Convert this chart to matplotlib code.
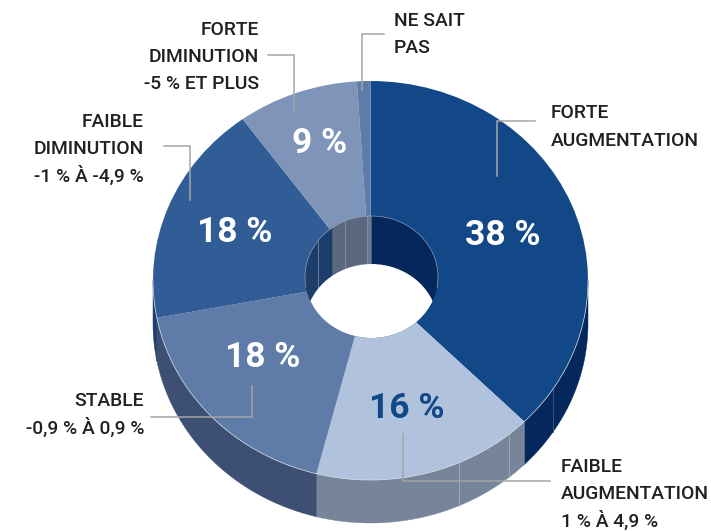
import numpy as np
import matplotlib
matplotlib.use("Agg")
import matplotlib.pyplot as plt
from matplotlib.patches import Ellipse

categories = ["Forte augmentation", "Faible augmentation", "Stable",
              "Faible diminution", "Forte diminution", "Ne sait pas"]
values = [37.5, 16.5, 18, 18, 9, 1]
top_colors = ["#134888", "#b0c2dc", "#5f7ba8", "#305d96", "#7e94b8", "#5f7ba8"]
wall_colors = ["#05285c", "#76859a", "#3d5073", "#1d3d6b", "#5b6880", "#6a7890"]
pct_labels = ["38 %", "16 %", "18 %", "18 %", "9 %"]
pct_colors = ["white", "#134888", "white", "white", "white"]
pct_pos = [(503, 231), (407, 404), (263, 353), (235, 228), (320, 139)]

CX, CY, RX, RY = 370.5, 280.5, 217.5, 199.5
HCX, HCY, HRX, HRY = 371.5, 277.0, 66.5, 61.0
DEPTH_OUT, DEPTH_IN = 43.0, 48.0


def to_x(px):
    return (np.asarray(px, float) - CX) / RX


def to_y(py):
    return (CY - np.asarray(py, float)) / RY


fig = plt.figure(figsize=(7.11, 5.31), dpi=100)
ax = fig.add_axes([0, 0, 1, 1])
plt.rcParams["font.family"] = ["Roboto", "DejaVu Sans"]

edges = np.concatenate([[0], np.cumsum(values)]) / sum(values) * 360.0


def wall(cx, cy, rx, ry, depth, a1, a2, color, zorder, clip=None):
    t = np.radians(np.linspace(a1, a2, 80))
    xs = cx + rx * np.sin(t)
    ys = cy - ry * np.cos(t)
    px = np.concatenate([xs, xs[::-1]])
    py = np.concatenate([ys, ys[::-1] + depth])
    poly = ax.fill(to_x(px), to_y(py), color=color, lw=0.3, zorder=zorder)[0]
    if clip is not None:
        poly.set_clip_path(clip)
    return poly


# outer front wall
for i in range(len(values)):
    a1, a2 = max(edges[i], 90), min(edges[i + 1], 270)
    if a2 > a1:
        wall(CX, CY, RX, RY, DEPTH_OUT, a1, a2, wall_colors[i], 1)

# outer seams
for sx, col in [(459, "#a3adbc"), (509, "#a3adbc"), (553, "#3f5a85")]:
    dy = RY * np.sqrt(1 - ((sx - CX) / RX) ** 2)
    ax.plot(to_x([sx, sx]), to_y([CY + dy, CY + dy + DEPTH_OUT]),
            color=col, lw=0.6, zorder=1.5)

# top face
wedges, _ = ax.pie(values, colors=top_colors, startangle=90, counterclock=False,
                   radius=1, center=(0, 0), wedgeprops=dict(lw=0), normalize=True)
for w in wedges:
    w.set_zorder(2)
ax.set_aspect("auto")
ax.set_xlim(to_x(0), to_x(711))
ax.set_ylim(to_y(531), to_y(0))
ax.set_xticks([])
ax.set_yticks([])
ax.axis("off")

# light rim on front edge
t = np.radians(np.linspace(90, 270, 200))
ax.plot(np.sin(t), np.cos(t), color="#d5dce8", lw=0.5, zorder=2.2)

# hole
hole = Ellipse((to_x(HCX), to_y(HCY)), 2 * HRX / RX, 2 * HRY / RY,
               fc="#05285c", ec="none", zorder=3)
ax.add_patch(hole)
for i in range(len(values)):
    for lo, hi in [(-90, 90), (270, 450)]:
        a1, a2 = max(edges[i], lo), min(edges[i + 1], hi)
        if a2 > a1:
            wall(HCX, HCY, HRX, HRY, DEPTH_IN, a1, a2, wall_colors[i], 3.2, clip=hole)
for sx in [318, 345, 367]:
    dy = HRY * np.sqrt(1 - ((sx - HCX) / HRX) ** 2)
    ln, = ax.plot(to_x([sx, sx]), to_y([HCY - dy, HCY - dy + DEPTH_IN]),
                  color="#8d99ad", lw=0.5, zorder=3.4)
    ln.set_clip_path(hole)
floor = Ellipse((to_x(HCX), to_y(HCY + DEPTH_IN)), 2 * HRX / RX, 2 * HRY / RY,
                fc="white", ec="none", zorder=3.6)
ax.add_patch(floor)
floor.set_clip_path(hole)
t = np.radians(np.linspace(-100, 100, 200))
ax.plot(to_x(HCX + HRX * np.sin(t)), to_y(HCY - HRY * np.cos(t)),
        color="#aeb9cc", lw=0.4, zorder=3.8)

# leader lines
leaders = [
    ([497, 497, 535], [176, 121, 121]),
    ([403, 403, 550], [434, 481, 481]),
    ([252, 252, 151], [386, 417, 417]),
    ([164, 190, 190], [146, 146, 200]),
    ([268, 294, 294], [55, 55, 111]),
    ([384, 362, 362], [34, 34, 90]),
]
for lx, ly in leaders:
    ax.plot(to_x(lx), to_y(ly), color="#a6a6a6", lw=1.1, zorder=4,
            solid_joinstyle="miter")

# category labels: (text, x, centre y, ha)
labels = [
    ("NE SAIT", 394, 19, "left"), ("PAS", 394, 46, "left"),
    ("FORTE", 259, 28, "right"), ("DIMINUTION", 259, 55, "right"),
    ("-5 % ET PLUS", 259, 82, "right"),
    ("FAIBLE", 144, 120, "right"), ("DIMINUTION", 144, 147, "right"),
    ("-1 % À -4,9 %", 144, 175, "right"),
    ("FORTE", 551, 111, "left"), ("AUGMENTATION", 551, 139, "left"),
    ("STABLE", 144, 399, "right"), ("-0,9 % À 0,9 %", 144, 427, "right"),
    ("FAIBLE", 561, 465, "left"), ("AUGMENTATION", 561, 492, "left"),
    ("1 % À 4,9 %", 561, 520, "left"),
]
for s, x, y, ha in labels:
    ax.text(to_x(x), to_y(y + 7), s, ha=ha, va="baseline", fontsize=13.9,
            fontweight=500, color="#231f20", family=["Roboto", "DejaVu Sans"], zorder=5)

for s, (x, y), c in zip(pct_labels, pct_pos, pct_colors):
    ax.text(to_x(x), to_y(y + 14), s, ha="center", va="baseline",
            fontsize=25.5, fontweight="bold", color=c,
            family=["Roboto", "DejaVu Sans"], zorder=5)

fig.savefig("out.png", dpi=100, facecolor="white")
